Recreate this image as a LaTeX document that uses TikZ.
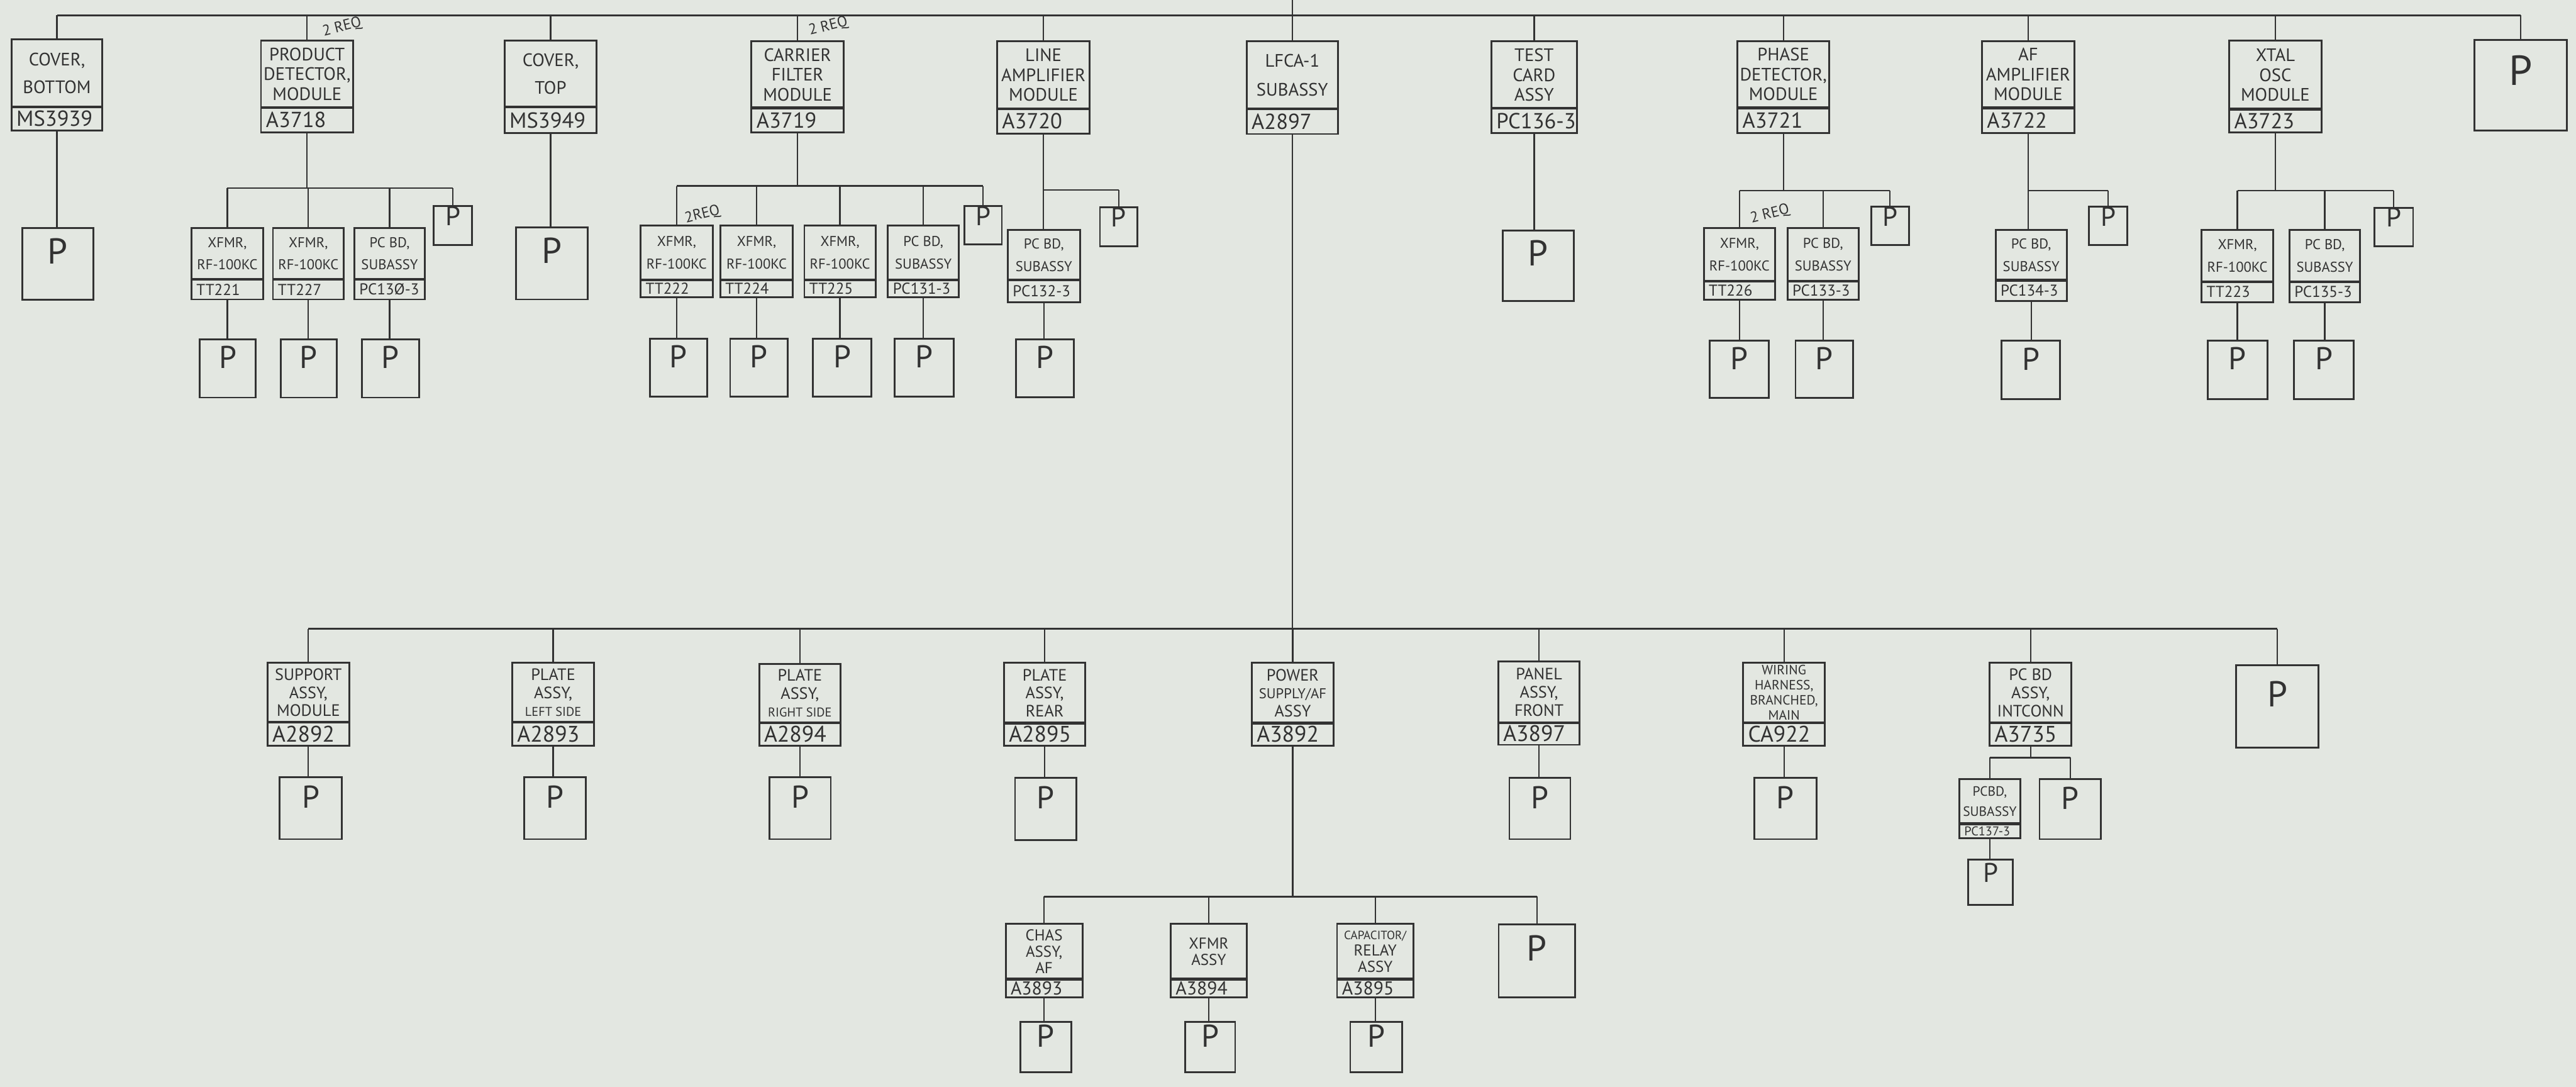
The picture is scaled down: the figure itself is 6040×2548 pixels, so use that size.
\documentclass[tikz,border=0pt]{standalone}
\usepackage{fontspec}
\setmainfont{PT Sans}
\usetikzlibrary{fit}
\definecolor{paper}{RGB}{227,231,225}
\definecolor{inkc}{RGB}{50,50,50}
\tikzset{
  pbx/.style={draw=inkc, line width=1.2pt, inner sep=0pt, text=inkc},
  divl/.style={draw=inkc, line width=1.8pt},
  conn/.style={draw=inkc, line width=1pt},
  tA/.style={align=center, text=inkc, inner sep=0pt, font=\fontsize{12}{13.2}\selectfont},
  nA/.style={anchor=west, text=inkc, inner sep=0pt, font=\fontsize{14.5}{15}\selectfont},
  tB/.style={align=center, text=inkc, inner sep=0pt, font=\fontsize{9.5}{15}\selectfont},
  nB/.style={anchor=west, text=inkc, inner sep=0pt, font=\fontsize{10.5}{11}\selectfont},
  tC/.style={align=center, text=inkc, inner sep=0pt, font=\fontsize{11}{12}\selectfont},
  nC/.style={anchor=west, text=inkc, inner sep=0pt, font=\fontsize{15}{16}\selectfont},
  tD/.style={align=center, text=inkc, inner sep=0pt, font=\fontsize{9}{10}\selectfont},
  nD/.style={anchor=west, text=inkc, inner sep=0pt, font=\fontsize{15}{16}\selectfont},
  tE/.style={align=center, text=inkc, inner sep=0pt, font=\fontsize{9}{13.5}\selectfont},
  nE/.style={anchor=west, text=inkc, inner sep=0pt, font=\fontsize{8.5}{9}\selectfont},
  tF/.style={align=center, text=inkc, inner sep=0pt, font=\fontsize{10.5}{11}\selectfont},
  nF/.style={anchor=west, text=inkc, inner sep=0pt, font=\fontsize{12.5}{13}\selectfont},
  pXL/.style={font=\fontsize{28}{28}\selectfont},
  pL/.style={font=\fontsize{24}{24}\selectfont},
  pM/.style={font=\fontsize{21}{21}\selectfont},
  pS/.style={font=\fontsize{18}{18}\selectfont},
  req/.style={font=\fontsize{10}{10}\selectfont, rotate=14, text=inkc, inner sep=0pt},
}
% name, x1, y1, x2, y2, ydivider, style letter, title, number
\newcommand{\mkpart}[9]{%
  \coordinate (#1-a) at (#2,#3);
  \coordinate (#1-b) at (#4,#5);
  \node[pbx, fit=(#1-a)(#1-b)] (#1) {};
  \draw[divl] (#2,#6) -- (#4,#6);
  \node[t#7] (#1-t) at ({(#2+#4)/2},{(#3+#6)/2}) {#8};
  \node[n#7] (#1-n) at ({#2+11},{(#6+#5)/2}) {#9};
}
% name, x1, y1, x2, y2, style
\newcommand{\mkp}[6]{%
  \coordinate (#1-a) at (#2,#3);
  \coordinate (#1-b) at (#4,#5);
  \node[pbx, fit=(#1-a)(#1-b), #6] (#1) {P};
}
\begin{document}
\begin{tikzpicture}[x=0.01cm, y=-0.01cm]
\fill[paper] (0,0) rectangle (6040,2548);
\useasboundingbox (0,0) rectangle (6040,2548);
\coordinate (edge) at (0,0);
\coordinate (busT) at (0,36);

% ---------- top row ----------
\mkpart{cb}{27}{92}{240}{306}{251}{A}{COVER,\\[5pt]BOTTOM}{MS3939}
\mkpart{pd}{612}{95}{828}{310}{252}{A}{PRODUCT\\DETECTOR,\\MODULE}{A3718}
\mkpart{ct}{1183}{95}{1399}{312}{251}{A}{COVER,\\[5pt]TOP}{MS3949}
\mkpart{cf}{1762}{97}{1978}{311}{253}{A}{CARRIER\\FILTER\\MODULE}{A3719}
\mkpart{la}{2338}{97}{2555}{313}{255}{A}{LINE\\AMPLIFIER\\MODULE}{A3720}
\mkpart{lf}{2923}{97}{3137}{314}{255}{A}{LFCA-1\\[6pt]SUBASSY}{A2897}
\mkpart{tc}{3497}{97}{3697}{312}{254}{A}{TEST\\CARD\\ASSY}{PC136-3}
\mkpart{ph}{4074}{96}{4289}{312}{253}{A}{PHASE\\DETECTOR,\\MODULE}{A3721}
\mkpart{af}{4647}{96}{4864}{312}{253}{A}{AF\\AMPLIFIER\\MODULE}{A3722}
\mkpart{xo}{5227}{95}{5443}{310}{256}{A}{XTAL\\OSC\\MODULE}{A3723}
\mkp{tp}{5802}{93}{6019}{306}{pXL}

\mkp{cb-p}{52}{534}{219}{703}{pL}
\mkp{ct-p}{1210}{533}{1378}{702}{pL}
\mkp{tc-p}{3523}{540}{3690}{705}{pL}

% product detector children
\mkpart{pd1}{449}{534}{617}{702}{655}{B}{XFMR,\\RF-100KC}{TT221}
\mkpart{pd2}{640}{534}{806}{702}{655}{B}{XFMR,\\RF-100KC}{TT227}
\mkpart{pd3}{831}{534}{996}{702}{655}{B}{PC BD,\\SUBASSY}{PC13Ø-3}
\mkp{pd4}{1017}{483}{1107}{574}{pS}
\mkp{pd1-p}{468}{795}{600}{932}{pM}
\mkp{pd2-p}{658}{795}{790}{932}{pM}
\mkp{pd3-p}{848}{795}{983}{932}{pM}

% carrier filter children
\mkpart{cf1}{1502}{529}{1671}{697}{656}{B}{XFMR,\\RF-100KC}{TT222}
\mkpart{cf2}{1689}{529}{1859}{697}{656}{B}{XFMR,\\RF-100KC}{TT224}
\mkpart{cf3}{1886}{529}{2053}{697}{656}{B}{XFMR,\\RF-100KC}{TT225}
\mkpart{cf4}{2082}{529}{2248}{697}{656}{B}{PC BD,\\SUBASSY}{PC131-3}
\mkp{cf5}{2261}{483}{2349}{573}{pS}
\mkp{cf1-p}{1524}{794}{1658}{930}{pM}
\mkp{cf2-p}{1712}{794}{1847}{930}{pM}
\mkp{cf3-p}{1906}{794}{2043}{930}{pM}
\mkp{cf4-p}{2098}{794}{2236}{930}{pM}

% line amplifier children
\mkpart{la1}{2363}{539}{2532}{708}{656}{B}{PC BD,\\SUBASSY}{PC132-3}
\mkp{la2}{2579}{486}{2667}{577}{pS}
\mkp{la1-p}{2382}{796}{2518}{931}{pM}

% phase detector children
\mkpart{ph1}{3995}{535}{4162}{703}{659}{B}{XFMR,\\RF-100KC}{TT226}
\mkpart{ph2}{4191}{535}{4358}{703}{659}{B}{PC BD,\\SUBASSY}{PC133-3}
\mkp{ph3}{4387}{485}{4476}{574}{pS}
\mkp{ph1-p}{4009}{799}{4147}{933}{pM}
\mkp{ph2-p}{4210}{799}{4345}{933}{pM}

% af amplifier children
\mkpart{af1}{4679}{539}{4846}{706}{657}{B}{PC BD,\\SUBASSY}{PC134-3}
\mkp{af2}{4898}{485}{4988}{574}{pS}
\mkp{af1-p}{4693}{799}{4830}{936}{pM}

% xtal osc children
\mkpart{xo1}{5162}{539}{5330}{708}{661}{B}{XFMR,\\RF-100KC}{TT223}
\mkpart{xo2}{5368}{539}{5534}{708}{661}{B}{PC BD,\\SUBASSY}{PC135-3}
\mkp{xo3}{5567}{487}{5658}{577}{pS}
\mkp{xo1-p}{5177}{799}{5316}{935}{pM}
\mkp{xo2-p}{5379}{799}{5519}{935}{pM}

% 2 REQ labels
\node[req] (rq1) at (802,64) {2 REQ};
\node[req] (rq2) at (1942,62) {2 REQ};
\node[req] (rq3) at (1647,503) {2REQ};
\node[req] (rq4) at (4150,502) {2 REQ};

% ---------- second row ----------
\mkpart{sa}{627}{1554}{819}{1748}{1693}{C}{SUPPORT\\ASSY,\\MODULE}{A2892}
\mkpart{pl}{1201}{1554}{1393}{1748}{1693}{C}{PLATE\\ASSY,\\{\fontsize{8.5}{9}\selectfont LEFT SIDE}}{A2893}
\mkpart{pr}{1780}{1556}{1971}{1748}{1694}{C}{PLATE\\ASSY,\\{\fontsize{8.5}{9}\selectfont RIGHT SIDE}}{A2894}
\mkpart{pe}{2354}{1554}{2545}{1748}{1695}{C}{PLATE\\ASSY,\\REAR}{A2895}
\mkpart{ps}{2935}{1554}{3127}{1748}{1695}{C}{POWER\\{\fontsize{9.5}{10}\selectfont SUPPLY/AF}\\ASSY}{A3892}
\mkpart{pf}{3513}{1551}{3704}{1746}{1694}{C}{PANEL\\ASSY,\\FRONT}{A3897}
\mkpart{wh}{4087}{1553}{4279}{1748}{1694}{D}{WIRING\\HARNESS,\\BRANCHED,\\MAIN}{CA922}
\mkpart{ic}{4665}{1554}{4857}{1748}{1694}{C}{PC BD\\ASSY,\\INTCONN}{A3735}
\mkp{rp}{5243}{1560}{5436}{1752}{pL}

\mkp{sa-p}{656}{1822}{801}{1967}{pM}
\mkp{pl-p}{1229}{1822}{1373}{1967}{pM}
\mkp{pr-p}{1804}{1822}{1948}{1967}{pM}
\mkp{pe-p}{2380}{1823}{2524}{1969}{pM}
\mkp{pf-p}{3539}{1823}{3682}{1967}{pM}
\mkp{wh-p}{4113}{1823}{4259}{1967}{pM}

\mkpart{ic1}{4594}{1826}{4737}{1965}{1931}{E}{PCBD,\\SUBASSY}{PC137-3}
\mkp{ic2}{4782}{1826}{4926}{1967}{pM}
\mkp{ic1-p}{4615}{2015}{4720}{2121}{pS}

% ---------- third row ----------
\mkpart{ch}{2358}{2166}{2538}{2338}{2295}{F}{CHAS\\ASSY,\\AF}{A3893}
\mkpart{xa}{2745}{2166}{2923}{2338}{2295}{F}{XFMR\\ASSY}{A3894}
\mkpart{cr}{3135}{2166}{3314}{2338}{2295}{F}{{\fontsize{8}{9}\selectfont CAPACITOR/}\\RELAY\\ASSY}{A3895}
\mkp{bp}{3514}{2167}{3693}{2338}{pL}
\mkp{ch-p}{2392}{2396}{2512}{2513}{pM}
\mkp{xa-p}{2779}{2396}{2896}{2513}{pM}
\mkp{cr-p}{3166}{2396}{3287}{2513}{pM}

% ---------- connectors ----------
\coordinate (pdB) at (0,441);
\coordinate (cfB) at (0,436);
\coordinate (laB) at (0,445);
\coordinate (phB) at (0,447);
\coordinate (afB) at (0,447);
\coordinate (xoB) at (0,447);
\coordinate (bus2) at (0,1474);
\coordinate (icB) at (0,1776);
\coordinate (bus3) at (0,2102);

% top bus
\draw[conn] (cb.north |- busT) -- (tp.north |- busT);
\foreach \n in {cb,pd,ct,cf,la,tc,ph,af,xo,tp}
  \draw[conn] (\n.north) -- (\n.north |- busT);
\draw[conn] (lf.north) -- (lf.north |- edge);
\foreach \n in {cb,ct,tc}
  \draw[conn] (\n.south) -- (\n.south |- \n-p.north);

% sub buses
\draw[conn] (pd.south) -- (pd.south |- pdB);
\draw[conn] (pd1.north |- pdB) -- (pd4.north |- pdB);
\foreach \n in {pd1,pd2,pd3,pd4}
  \draw[conn] (\n.north) -- (\n.north |- pdB);

\draw[conn] (cf.south) -- (cf.south |- cfB);
\draw[conn] (cf1.north |- cfB) -- (cf5.north |- cfB);
\foreach \n in {cf1,cf2,cf3,cf4,cf5}
  \draw[conn] (\n.north) -- (\n.north |- cfB);

\draw[conn] (la.south) -- (la.south |- la1.north);
\draw[conn] (la.south |- laB) -- (la2.north |- laB);
\draw[conn] (la2.north) -- (la2.north |- laB);

\draw[conn] (ph.south) -- (ph.south |- phB);
\draw[conn] (ph1.north |- phB) -- (ph3.north |- phB);
\foreach \n in {ph1,ph2,ph3}
  \draw[conn] (\n.north) -- (\n.north |- phB);

\draw[conn] (af.south) -- (af.south |- af1.north);
\draw[conn] (af.south |- afB) -- (af2.north |- afB);
\draw[conn] (af2.north) -- (af2.north |- afB);

\draw[conn] (xo.south) -- (xo.south |- xoB);
\draw[conn] (xo1.north |- xoB) -- (xo3.north |- xoB);
\foreach \n in {xo1,xo2,xo3}
  \draw[conn] (\n.north) -- (\n.north |- xoB);

\foreach \n in {pd1,pd2,pd3,cf1,cf2,cf3,cf4,la1,ph1,ph2,af1,xo1,xo2}
  \draw[conn] (\n.south) -- (\n.south |- \n-p.north);

% second bus
\draw[conn] (lf.south) -- (lf.south |- bus2);
\draw[conn] (sa.north |- bus2) -- (rp.north |- bus2);
\foreach \n in {sa,pl,pr,pe,ps,pf,wh,ic,rp}
  \draw[conn] (\n.north) -- (\n.north |- bus2);
\foreach \n in {sa,pl,pr,pe,pf,wh}
  \draw[conn] (\n.south) -- (\n.south |- \n-p.north);

\draw[conn] (ic.south) -- (ic.south |- icB);
\draw[conn] (ic1.north |- icB) -- (ic2.north |- icB);
\foreach \n in {ic1,ic2}
  \draw[conn] (\n.north) -- (\n.north |- icB);
\draw[conn] (ic1.south) -- (ic1.south |- ic1-p.north);

% third bus
\draw[conn] (ps.south) -- (ps.south |- bus3);
\draw[conn] (ch.north |- bus3) -- (bp.north |- bus3);
\foreach \n in {ch,xa,cr,bp}
  \draw[conn] (\n.north) -- (\n.north |- bus3);
\foreach \n in {ch,xa,cr}
  \draw[conn] (\n.south) -- (\n.south |- \n-p.north);
\end{tikzpicture}
\end{document}
